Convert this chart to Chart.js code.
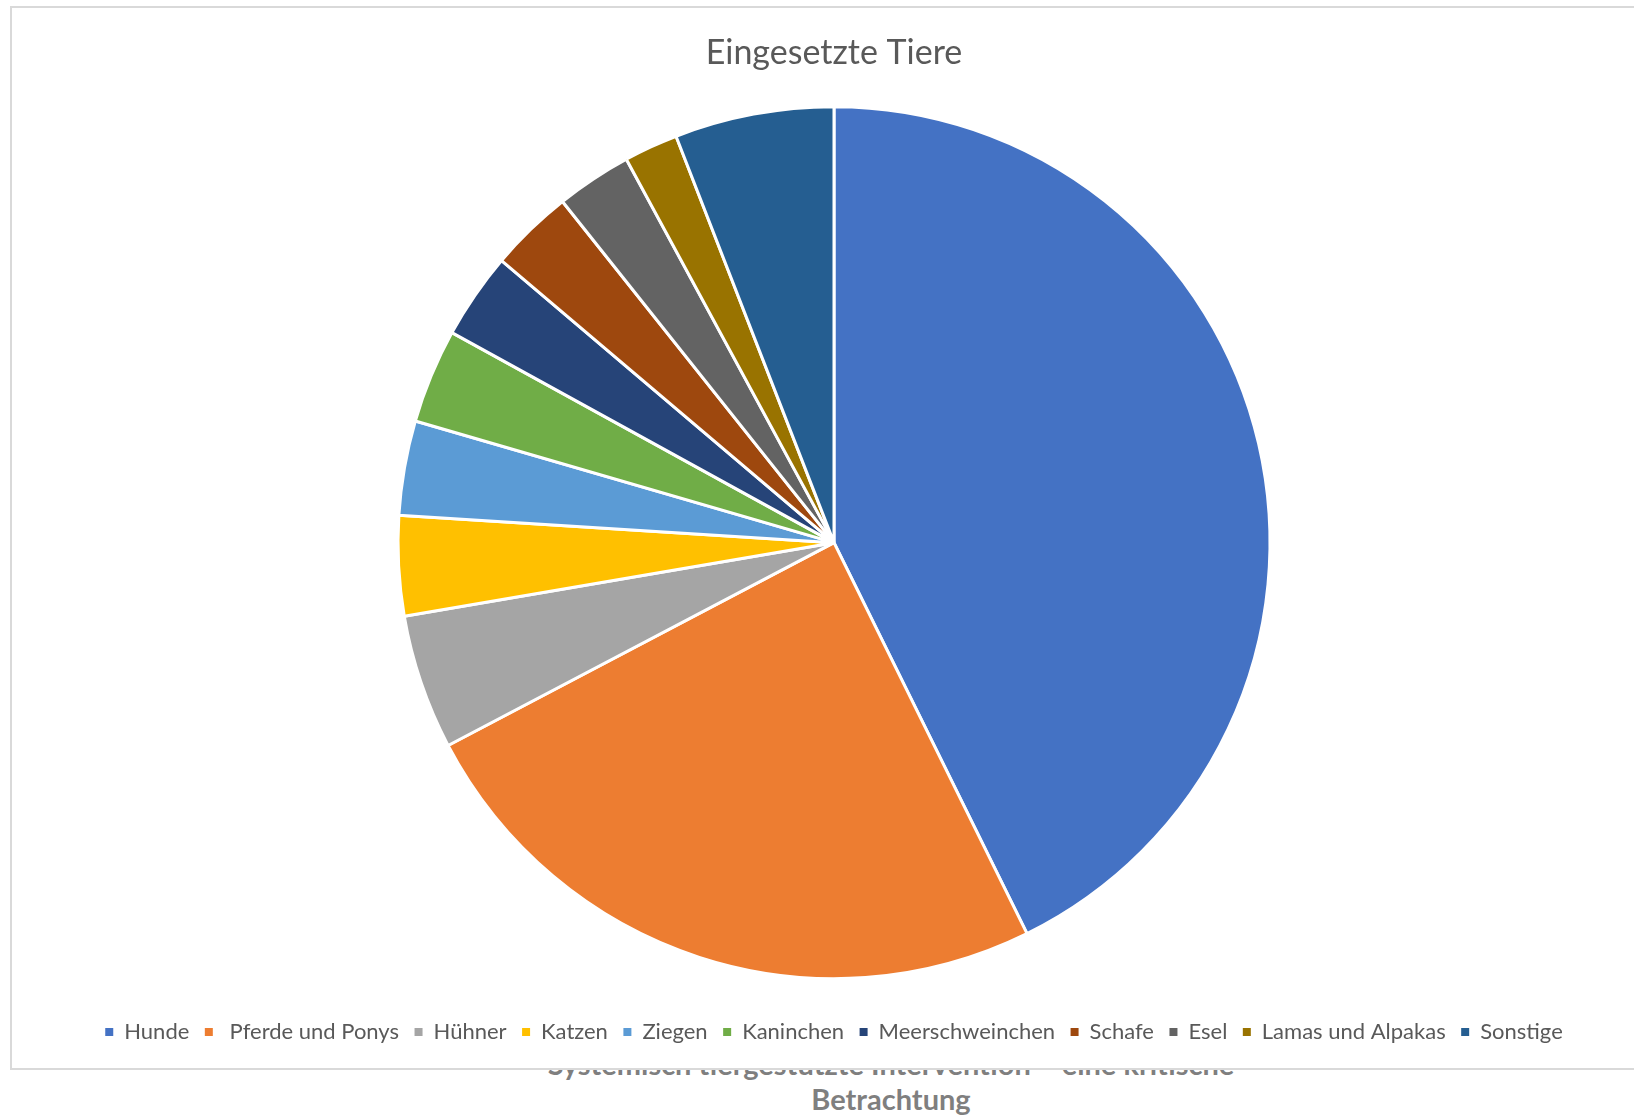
<!DOCTYPE html>
<html>
<head>
<meta charset="utf-8">
<script src="https://cdn.jsdelivr.net/npm/chart.js@4.4.0/dist/chart.umd.min.js"></script>
<style>
  html, body { margin: 0; padding: 0; background: #fff; overflow: hidden; }
  body { width: 1634px; height: 1115px; position: relative; font-family: Lato, "Open Sans", sans-serif; }
  #caption {
    position: absolute; left: 391px; top: 1046px; width: 1000px;
    text-align: center; font-weight: bold; font-size: 29px; line-height: 35px; color: #7f7f7f;
    white-space: nowrap; z-index: 0;
  }
  #box {
    position: absolute; left: 10px; top: 6px; width: 1644px; height: 1060px;
    border: 2px solid #d9d9d9; background: #fff; z-index: 1;
  }
</style>
</head>
<body>
<div id="caption">Systemisch tiergestützte Intervention – eine kritische<br>Betrachtung</div>
<div id="box"><canvas id="pieChart" width="1644" height="1060"></canvas></div>
<script>
const animals = ['Hunde', ' Pferde und Ponys', 'Hühner', 'Katzen', 'Ziegen', 'Kaninchen',
    'Meerschweinchen', 'Schafe', 'Esel', 'Lamas und Alpakas', 'Sonstige'];
const shares = [42.7, 24.6, 5.0, 3.7, 3.5, 3.5, 3.2, 3.1, 2.8, 2.0, 5.9];
const sliceColors = ['#4472C4', '#ED7D31', '#A5A5A5', '#FFC000', '#5B9BD5', '#70AD47',
    '#264478', '#9E480E', '#636363', '#997300', '#255E91'];

const pieData = {
    labels: animals,
    datasets: [{
        data: shares,
        backgroundColor: sliceColors,
        borderColor: '#ffffff',
        borderWidth: 3,
        radius: 436
    }]
};

// legend squares without the white slice border
const plainLegendLabels = function (chart) {
    const items = Chart.controllers.pie.overrides.plugins.legend.labels.generateLabels(chart);
    items.forEach(item => { item.lineWidth = 0; });
    return items;
};

const pieConfig = {
    type: 'pie',
    data: pieData,
    options: {
        responsive: false,
        animation: false,
        layout: { padding: { top: 0, bottom: 15, left: 0, right: 0 } },
        plugins: {
            title: {
                display: true,
                text: 'Eingesetzte Tiere',
                color: '#595959',
                font: { family: 'Lato', size: 34, weight: 'normal' },
                padding: { top: 25, bottom: 6 }
            },
            legend: {
                position: 'bottom',
                labels: {
                    color: '#595959',
                    font: { family: 'Lato', size: 22 },
                    boxWidth: 8,
                    boxHeight: 8,
                    padding: 15.5,
                    generateLabels: plainLegendLabels
                }
            },
            tooltip: { enabled: false }
        }
    }
};

const pieChart = new Chart(
    document.getElementById('pieChart'),
    pieConfig
);
</script>
</body>
</html>
